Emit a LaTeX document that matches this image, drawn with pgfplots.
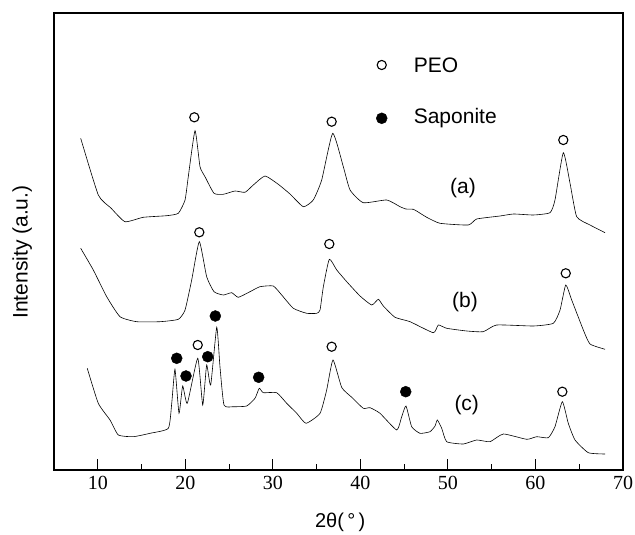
\documentclass[border=0pt]{standalone}
\usepackage{pgfplots}
\pgfplotsset{compat=1.18}
\usepackage{fontspec}
\setmainfont{Liberation Serif}
\setsansfont{Liberation Sans}
\begin{document}
\begin{tikzpicture}
\useasboundingbox (-54pt,-65pt) rectangle (581pt,470pt);
\begin{axis}[
  scale only axis, width=569pt, height=457pt,
  xmin=5, xmax=70, ymin=0, ymax=457,
  xtick={10,20,30,40,50,60,70}, minor x tick num=1,
  ytick=\empty, xtick pos=bottom, tick align=inside,
  major tick length=11pt, minor tick length=5.5pt,
  axis line style={line width=1.4pt}, every tick/.style={line width=1.1pt,black},
  /pgf/number format/assume math mode=true,
  xticklabel style={font=\fontsize{20}{23}\selectfont\rmfamily, yshift=-3pt},
  xlabel={2θ(\,°\,)}, ylabel={Intensity (a.u.)},
  xlabel style={font=\fontsize{20}{24}\selectfont\sffamily, at={(axis description cs:0.503,-0.114)}, anchor=center},
  ylabel style={font=\fontsize{21}{25}\selectfont\sffamily, at={(axis description cs:-0.056,0.477)}, anchor=center, rotate=0},
  clip=false,
]
% curve (a)
\addplot[black, line width=0.6pt, smooth, tension=0.3] coordinates {
(8.05,331.7)(10.06,275)(11.5,262)(13.11,248.3)(15.20,252.7)(17.87,254.3)(19.20,256.7)(19.97,270)(20.34,293.3)(21.11,339.3)(21.68,303.3)(22.25,293.3)(23.28,276.7)(24.34,275.7)(25.68,279)(26.82,277.7)(27.77,285)(29.10,294)(30.62,285.7)(31.96,276)(33.48,263.3)(34.62,270)(35.58,290)(36.84,336.7)(38.05,303.3)(38.82,280)(40.33,267.3)(43.01,270)(44.53,263.3)(45.2,261)(46.05,260.7)(46.6,258)(47.58,252.7)(49.10,246.7)(52.33,245)(53.29,251)(55.95,254)(57.5,256)(59.76,255)(61.66,257.3)(62.23,270)(63.18,317.3)(63.95,286.7)(64.71,253.3)(66.23,245)(67.95,237.3)};
% curve (b)
\addplot[black, line width=0.6pt, smooth, tension=0.3] coordinates {
(8.05,221.7)(9.49,200)(11.02,173.3)(12.54,153.3)(14.45,148.3)(17.11,148.3)(19.20,150.7)(19.97,160)(20.73,190)(21.60,228.3)(22.44,193.3)(23.28,178.3)(24.34,175)(25.30,177.3)(26.05,172.7)(27.39,178.3)(28.53,183.3)(30.05,184)(31.01,175)(32.34,161.7)(33.87,156.7)(35.01,156.7)(35.39,160)(35.77,183.3)(36.45,210.7)(37.30,200)(38.44,188.3)(39.96,174)(41.29,165)(42.05,170.7)(42.62,164)(43.96,152.7)(45.67,148.3)(48.33,137.3)(48.90,145)(49.86,141.7)(52.15,139)(54.04,138.3)(55.57,145)(59.76,144)(62.04,146.7)(62.81,160)(63.46,185)(64.14,170)(65.47,140)(66.23,126)(67.95,120.7)};
% curve (c)
\addplot[black, line width=0.6pt, smooth, tension=0.3] coordinates {
(8.80,101.7)(10.06,66.7)(11.40,50)(12.35,35)(14.06,33.3)(15.97,36.7)(18.06,41.7)(18.45,66.7)(18.82,100.7)(19.28,56.7)(19.70,84)(20.23,66.7)(21.42,111.7)(21.99,65)(22.44,105)(22.90,85)(23.59,142.7)(23.96,103.3)(24.42,65)(25.48,63.3)(27.01,64)(27.96,71.7)(28.45,81.7)(28.91,77.3)(30.44,77.3)(31.58,66.7)(32.73,56.7)(33.79,46.7)(35.39,56.7)(36.15,80)(36.87,110)(37.87,82.5)(39.04,72.5)(40.33,61.7)(41.10,62.3)(42.24,56.7)(44.15,40)(44.72,53.3)(45.21,64)(45.86,43.3)(46.81,36.7)(47.95,38.3)(48.53,44)(48.79,50)(49.29,41.7)(49.86,28.3)(51.76,26)(53.29,30)(54.81,28.3)(56.33,36)(59.00,30.7)(60.14,33.3)(61.47,32.3)(62.23,43.3)(63.07,68.3)(63.75,46.7)(64.52,30)(66.04,17.3)(67.95,16)};
% PEO markers
\addplot[only marks, mark=o, mark size=4.6pt, line width=1.1pt, black] coordinates {
(21.03,352.7)(36.72,348.3)(63.18,330)(21.60,237.7)(36.45,226)(63.46,196.7)(21.42,125)(36.72,123.3)(63.07,78.3)(42.44,405)};
% Saponite markers
\addplot[only marks, mark=*, mark size=5.5pt, black] coordinates {
(19.02,111.7)(20.08,94)(22.56,113.3)(23.43,154)(28.38,92.7)(45.18,78.3)(42.44,351.7)};
\node[anchor=west, font=\fontsize{21}{25}\selectfont\sffamily] at (axis cs:45.7,405) {PEO};
\node[anchor=west, font=\fontsize{21}{25}\selectfont\sffamily] at (axis cs:45.7,351.7) {Saponite};
\node[font=\fontsize{21}{25}\selectfont\sffamily] at (axis cs:51.72,282) {(a)};
\node[font=\fontsize{21}{25}\selectfont\sffamily] at (axis cs:51.95,168.3) {(b)};
\node[font=\fontsize{21}{25}\selectfont\sffamily] at (axis cs:52.15,65) {(c)};
\end{axis}
\end{tikzpicture}
\end{document}
